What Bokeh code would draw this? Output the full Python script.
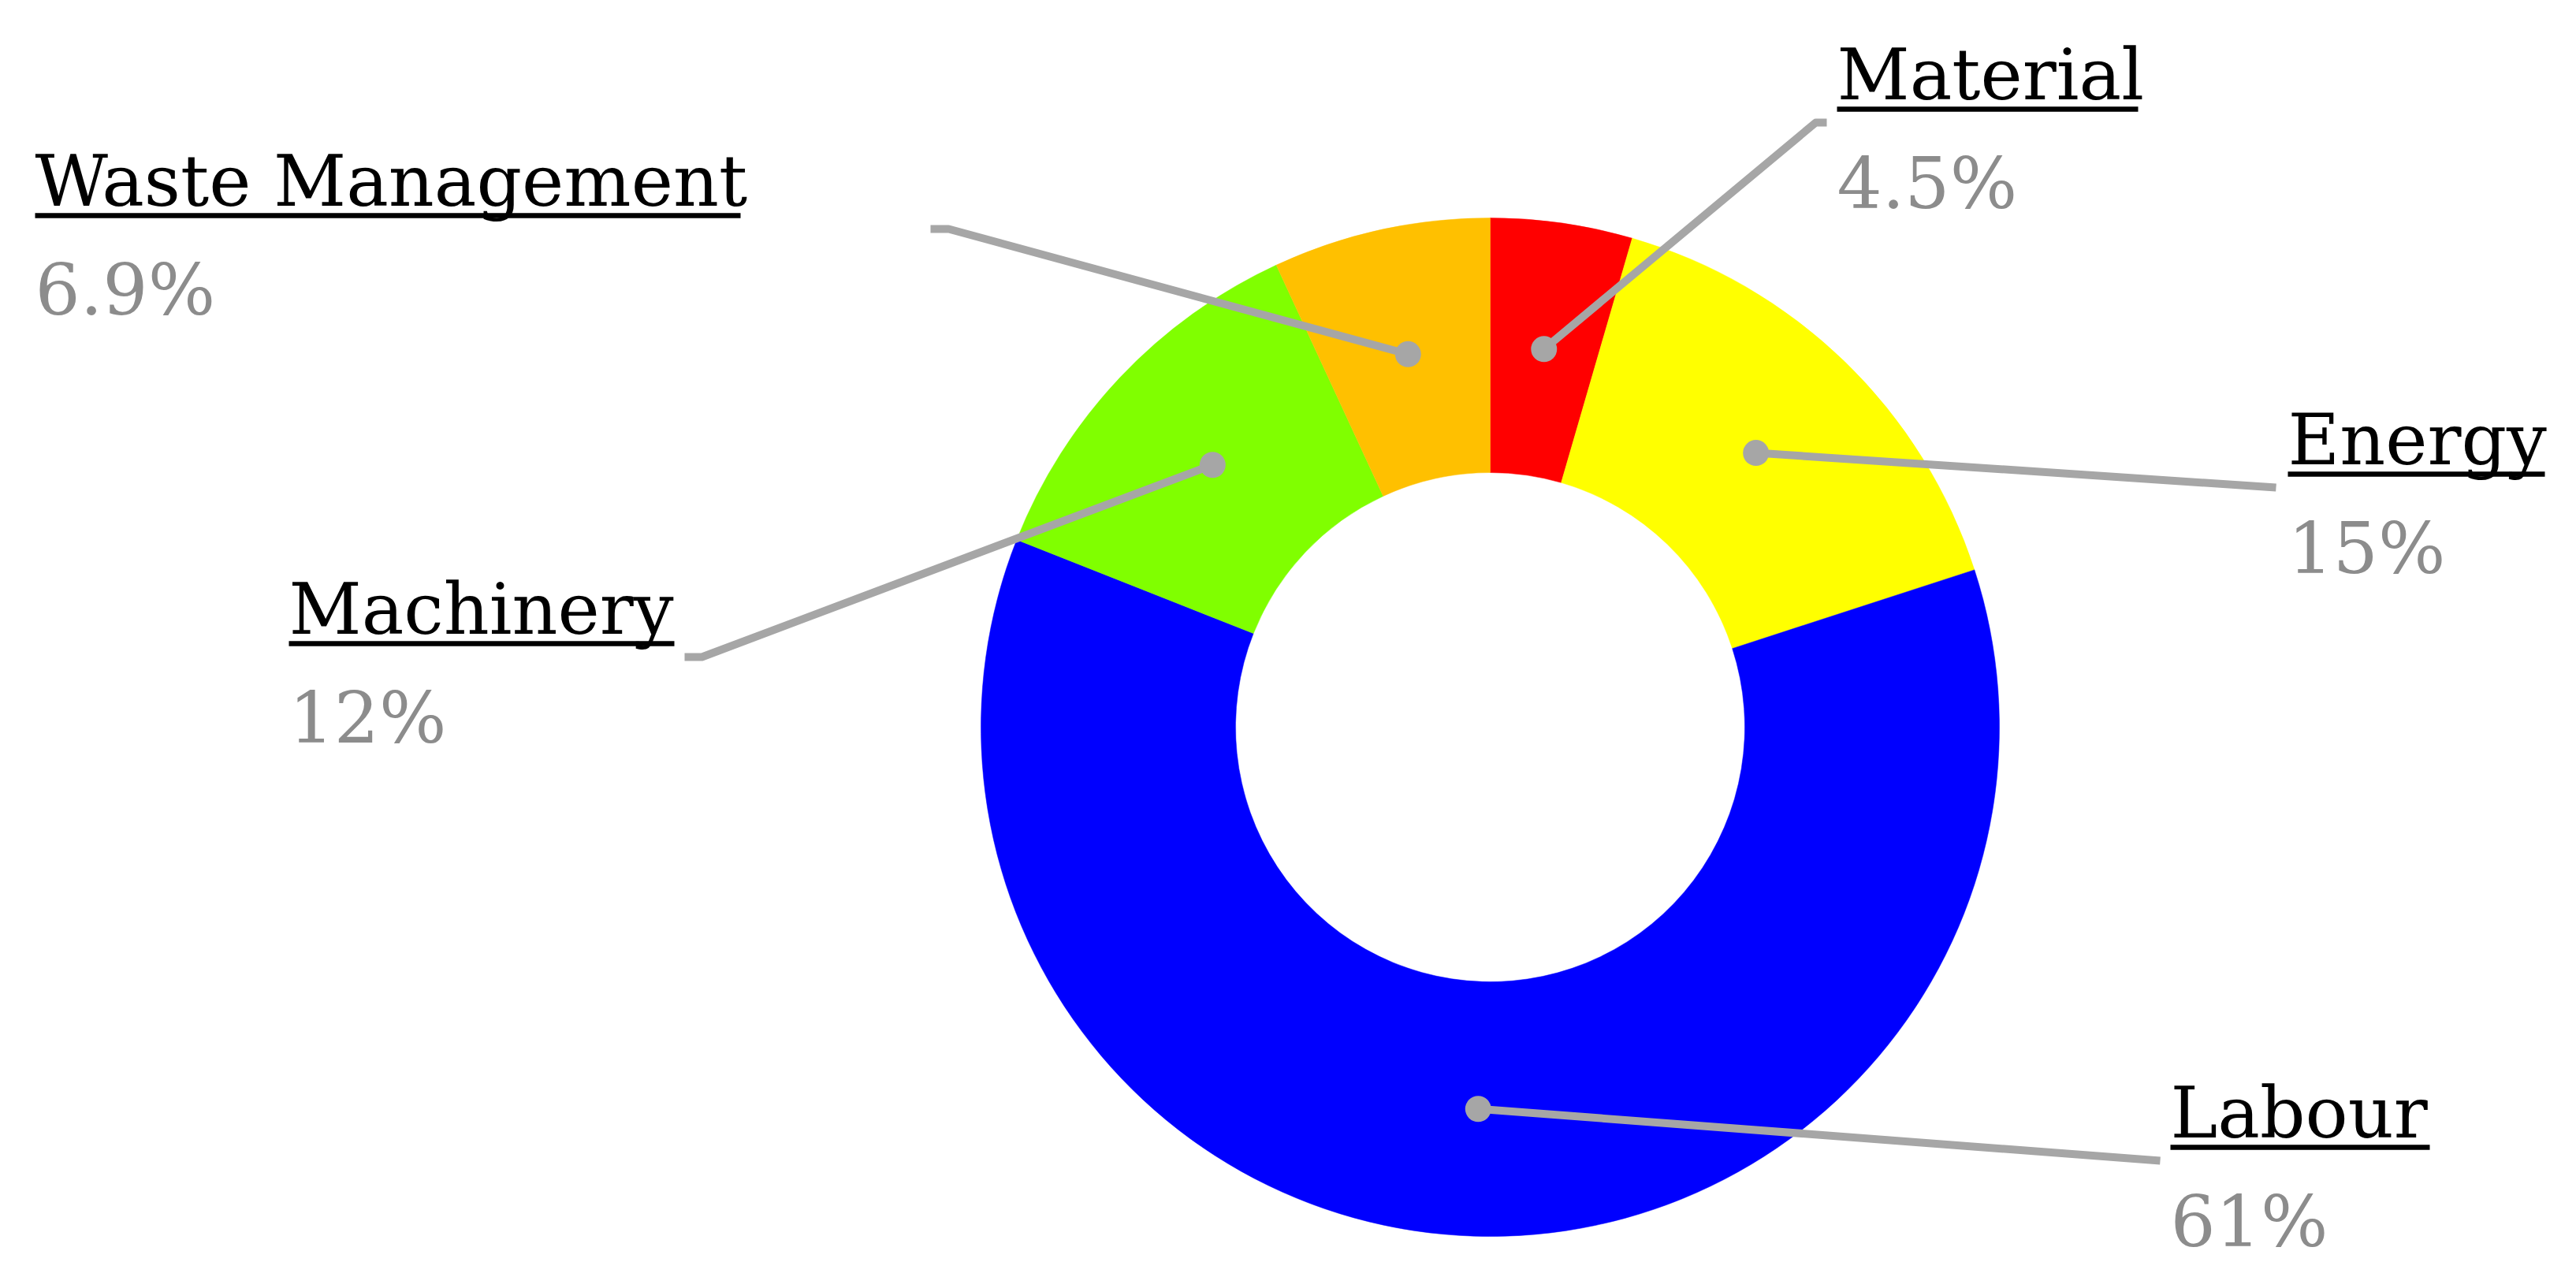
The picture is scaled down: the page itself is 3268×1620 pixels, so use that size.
import numpy as np
from bokeh.plotting import figure
from bokeh.models import Range1d, ColumnDataSource
from bokeh.embed import file_html
from bokeh.resources import INLINE
from bokeh.core.properties import value

# ---- data ----
categories = ["Material", "Energy", "Labour", "Machinery", "Waste Management"]
shares = [4.5, 15.5, 61.0, 12.1, 6.9]
pct_labels = ["4.5%", "15%", "61%", "12%", "6.9%"]
colors = ["#FF0000", "#FFFF00", "#0000FF", "#80FF00", "#FFC000"]

# ---- layout (screen pixel coordinates) ----
CX, CY = 1890, 922
R_OUT, R_IN = 646, 323
# label left x, label baseline y
label_x = [2330, 2902, 2753, 366, 44]
label_base = [125, 588, 1442, 803, 260]
pct_offset = 138
TEXT_SHIFT = 31  # correction for renderer baseline placement
underline_x1 = [2712, 3228, 3082, 855, 939]
underline_dy = 13
# leader line path after the dot (screen coords)
leader_tail = [
    [(2303, 155), (2317, 155)],
    [(2887, 618)],
    [(2740, 1472)],
    [(890, 833), (868, 833)],
    [(1203, 290), (1180, 290)],
]

W, H = 3260, 1616
p = figure(width=W, height=H, output_backend="svg", toolbar_location=None,
           x_range=Range1d(0, W), y_range=Range1d(-H, 0),
           min_border=0, outline_line_color=None)
p.axis.visible = False
p.grid.visible = False
p.background_fill_color = "white"
p.border_fill_color = "white"

total = float(sum(shares))
fr = np.array(shares) / total
cum = np.concatenate([[0.0], np.cumsum(fr)])
start = np.pi / 2 - 2 * np.pi * cum[:-1]
end = np.pi / 2 - 2 * np.pi * cum[1:]

src = ColumnDataSource(dict(start=start, end=end, color=colors, cat=categories))
p.annular_wedge(x=CX, y=-CY, inner_radius=R_IN, outer_radius=R_OUT,
                start_angle="start", end_angle="end", direction="clock",
                fill_color="color", line_color="color", line_width=0.5, source=src)

# dots at mid angle / mid radius
mid = np.pi / 2 - 2 * np.pi * (cum[:-1] + fr / 2)
r_mid = (R_IN + R_OUT) / 2
dot_x = CX + r_mid * np.cos(mid)
dot_y = -CY + r_mid * np.sin(mid)

xs, ys = [], []
for i in range(len(categories)):
    px = [dot_x[i]] + [pt[0] for pt in leader_tail[i]]
    py = [dot_y[i]] + [-pt[1] for pt in leader_tail[i]]
    xs.append(px)
    ys.append(py)
p.multi_line(xs, ys, line_color="#A6A6A6", line_width=10, line_join="round", line_cap="butt")
p.scatter(dot_x, dot_y, size=33, fill_color="#A6A6A6", line_color=None)

# labels
p.text(x=label_x, y=[-(b - TEXT_SHIFT) for b in label_base], text=categories,
       text_font=value("DejaVu Serif"), text_font_size="90px",
       text_color="black", text_baseline="alphabetic", text_align="left")
p.segment(x0=label_x, y0=[-(b + underline_dy) for b in label_base],
          x1=underline_x1, y1=[-(b + underline_dy) for b in label_base],
          line_color="black", line_width=6.5)
p.text(x=label_x, y=[-(b + pct_offset - TEXT_SHIFT) for b in label_base], text=pct_labels,
       text_font=value("DejaVu Serif"), text_font_size="90px",
       text_color="#8C8C8C", text_baseline="alphabetic", text_align="left")

open("out.html", "w").write(file_html(p, INLINE))
